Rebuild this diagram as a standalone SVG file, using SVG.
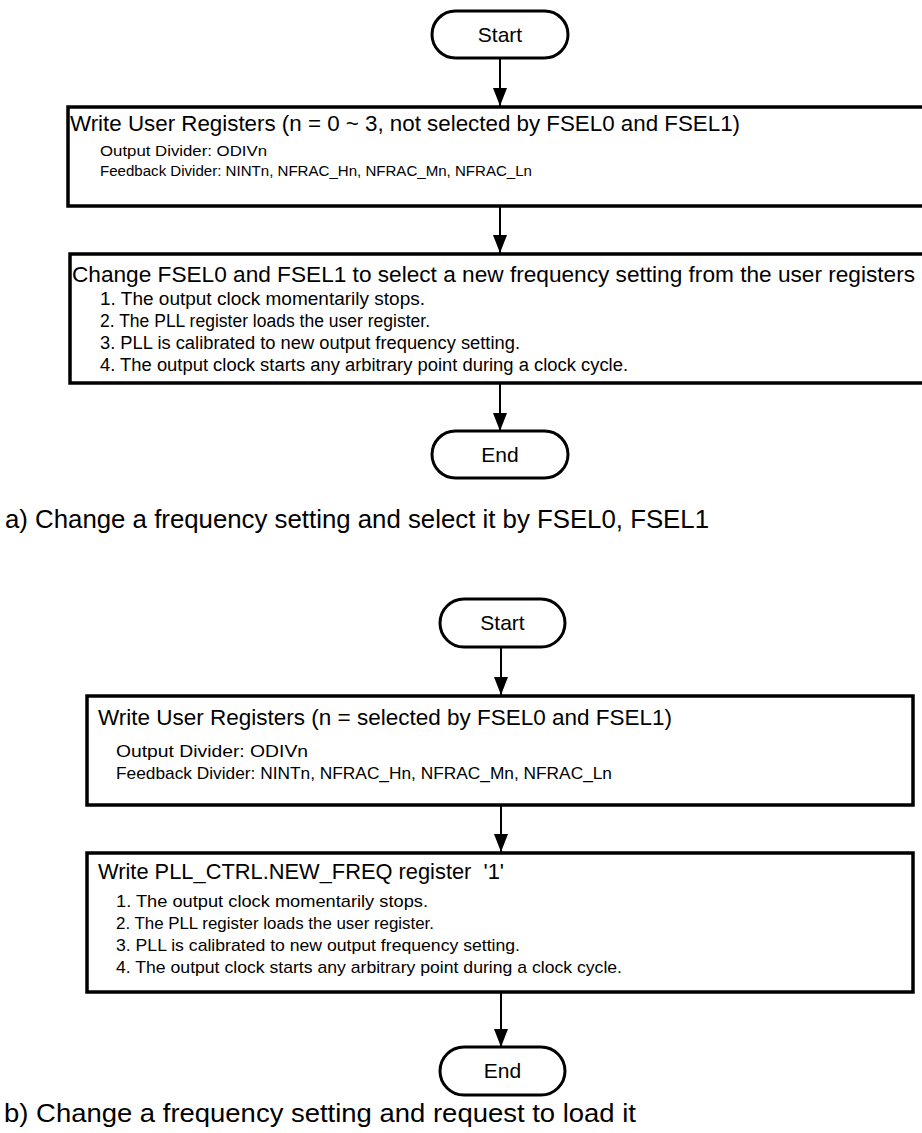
<svg xmlns="http://www.w3.org/2000/svg" width="922" height="1133" viewBox="0 0 922 1133">
  <style>
    text { font-family: "Liberation Sans", Arial, sans-serif; fill: #000; }
    .box { fill: #fff; stroke: #000; stroke-width: 3.5; }
    .term { fill: #fff; stroke: #000; stroke-width: 3; }
    .flow { stroke: #000; stroke-width: 2; fill: none; marker-end: url(#arrow); }
    .term-label { font-size: 21px; text-anchor: middle; }
    .title { font-size: 22px; }
    .caption { font-size: 26px; }
  </style>
  <defs>
    <marker id="arrow" markerUnits="userSpaceOnUse" markerWidth="18" markerHeight="14" refX="18" refY="7" orient="auto" viewBox="0 0 18 14">
      <path d="M0,0 L18,7 L0,14 Z" fill="#000"/>
    </marker>
  </defs>

  <rect width="922" height="1133" fill="#fff"/>

  <!-- connectors -->
  <g id="connectors">
    <line class="flow" x1="500" y1="58" x2="500" y2="106"/>
    <line class="flow" x1="500" y1="206" x2="500" y2="253"/>
    <line class="flow" x1="500" y1="383" x2="500" y2="431"/>
    <line class="flow" x1="501" y1="647" x2="501" y2="695"/>
    <line class="flow" x1="501" y1="805" x2="501" y2="852"/>
    <line class="flow" x1="501" y1="992" x2="501" y2="1047"/>
  </g>

  <!-- flow a -->
  <g id="a-start">
    <rect class="term" x="432" y="11" width="136" height="47" rx="23.5"/>
    <text class="term-label" x="500" y="42">Start</text>
  </g>
  <g id="a-write-user">
    <rect class="box" x="68" y="107" width="856" height="99"/>
    <text class="title" x="70" y="131" textLength="670" lengthAdjust="spacingAndGlyphs">Write User Registers (n = 0 ~ 3, not selected by FSEL0 and FSEL1)</text>
    <text x="100" y="156" font-size="15.5" textLength="167" lengthAdjust="spacingAndGlyphs">Output Divider: ODIVn</text>
    <text x="100" y="176" font-size="15.5" textLength="432" lengthAdjust="spacingAndGlyphs">Feedback Divider: NINTn, NFRAC_Hn, NFRAC_Mn, NFRAC_Ln</text>
  </g>
  <g id="a-change-fsel">
    <rect class="box" x="70" y="254" width="854" height="129"/>
    <text class="title" x="72" y="282" textLength="843" lengthAdjust="spacingAndGlyphs">Change FSEL0 and FSEL1 to select a new frequency setting from the user registers</text>
    <g font-size="18">
      <text x="100" y="305" textLength="325" lengthAdjust="spacingAndGlyphs">1. The output clock momentarily stops.</text>
      <text x="100" y="327" textLength="330" lengthAdjust="spacingAndGlyphs">2. The PLL register loads the user register.</text>
      <text x="100" y="349" textLength="420" lengthAdjust="spacingAndGlyphs">3. PLL is calibrated to new output frequency setting.</text>
      <text x="100" y="371" textLength="528" lengthAdjust="spacingAndGlyphs">4. The output clock starts any arbitrary point during a clock cycle.</text>
    </g>
  </g>
  <g id="a-end">
    <rect class="term" x="432" y="431" width="136" height="47" rx="23.5"/>
    <text class="term-label" x="500" y="462">End</text>
  </g>
  <text class="caption" x="5" y="528" textLength="704" lengthAdjust="spacingAndGlyphs">a) Change a frequency setting and select it by FSEL0, FSEL1</text>

  <!-- flow b -->
  <g id="b-start">
    <rect class="term" x="440" y="599" width="125" height="48" rx="24"/>
    <text class="term-label" x="502.5" y="630">Start</text>
  </g>
  <g id="b-write-user">
    <rect class="box" x="87" y="696" width="826" height="109"/>
    <text class="title" x="98" y="725" textLength="574" lengthAdjust="spacingAndGlyphs">Write User Registers (n = selected by FSEL0 and FSEL1)</text>
    <text x="116" y="757" font-size="17" textLength="192" lengthAdjust="spacingAndGlyphs">Output Divider: ODIVn</text>
    <text x="116" y="779" font-size="17" textLength="496" lengthAdjust="spacingAndGlyphs">Feedback Divider: NINTn, NFRAC_Hn, NFRAC_Mn, NFRAC_Ln</text>
  </g>
  <g id="b-new-freq">
    <rect class="box" x="87" y="853" width="826" height="139"/>
    <text class="title" x="98" y="879" xml:space="preserve" textLength="406" lengthAdjust="spacingAndGlyphs">Write PLL_CTRL.NEW_FREQ register  '1'</text>
    <g font-size="17">
      <text x="116" y="907" textLength="312" lengthAdjust="spacingAndGlyphs">1. The output clock momentarily stops.</text>
      <text x="116" y="929" textLength="318" lengthAdjust="spacingAndGlyphs">2. The PLL register loads the user register.</text>
      <text x="116" y="951" textLength="404" lengthAdjust="spacingAndGlyphs">3. PLL is calibrated to new output frequency setting.</text>
      <text x="116" y="973" textLength="506" lengthAdjust="spacingAndGlyphs">4. The output clock starts any arbitrary point during a clock cycle.</text>
    </g>
  </g>
  <g id="b-end">
    <rect class="term" x="440" y="1047" width="125" height="48" rx="24"/>
    <text class="term-label" x="502.5" y="1078">End</text>
  </g>
  <text class="caption" x="4" y="1122" textLength="632" lengthAdjust="spacingAndGlyphs">b) Change a frequency setting and request to load it</text>
</svg>
